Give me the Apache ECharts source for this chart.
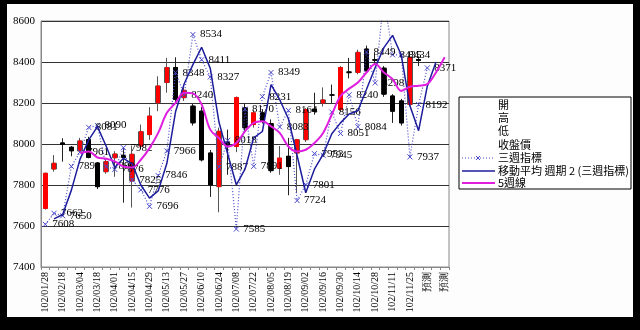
<!DOCTYPE html>
<html><head><meta charset="utf-8">
<script src="https://cdn.jsdelivr.net/npm/echarts@6/dist/echarts.min.js"></script>
<style>html,body{margin:0;padding:0;background:#000;}#c{width:640px;height:330px;}</style>
</head><body><div id="c"></div>
<script>
const categories = ['102/01/28','102/02/04','102/02/18','102/02/25','102/03/04','102/03/11','102/03/18','102/03/25','102/04/01','102/04/08','102/04/15','102/04/22','102/04/29','102/05/06','102/05/13','102/05/20','102/05/27','102/06/03','102/06/10','102/06/17','102/06/24','102/07/01','102/07/08','102/07/15','102/07/22','102/07/29','102/08/05','102/08/12','102/08/19','102/08/26','102/09/02','102/09/09','102/09/16','102/09/23','102/09/30','102/10/07','102/10/14','102/10/21','102/10/28','102/11/04','102/11/11','102/11/18','102/11/25','102/12/02','預測','預測','預測'];
const opens  = [7686,7878,8005,7984,7966,8021,7907,7865,7933,7945,7820,7990,8046,8201,8300,8373,8226,8185,8160,7956,7792,8010,7988,8177,8095,8152,8100,7882,7940,7956,8021,8170,8200,8240,8168,8352,8349,8463,8412,8370,8234,8210,8193,8412];
const closes = [7857,7906,7998,7967,8015,7935,7792,7914,7951,7935,7950,8060,8136,8283,8373,8218,8262,8103,7923,7800,8062,7995,8226,8079,8152,8111,7870,7931,7890,8021,8168,8160,8215,8238,8373,8348,8447,8357,8408,8243,8160,8103,8423,8408];
const lows   = [7680,7865,7914,7940,7960,7930,7780,7855,7840,7714,7690,7975,8020,8160,8250,8200,8210,8090,7915,7742,7667,7850,7960,8060,8080,8100,7860,7850,7750,7760,8010,8143,8183,8200,8160,8320,8340,8350,8390,8230,8103,8090,8185,8380];
const highs  = [7860,7946,8028,7990,8030,8035,7910,7925,7965,7985,7990,8095,8180,8330,8420,8423,8275,8195,8180,7971,8080,8070,8232,8200,8165,8170,8120,7990,8030,8025,8175,8250,8276,8290,8380,8420,8460,8480,8440,8380,8243,8220,8440,8425];
const sanzhou = [7608,7662,7650,7891,7961,8081,8090,7890,7876,7982,7825,7776,7696,7846,7966,8348,8240,8534,8411,8327,7887,8018,7585,8170,7891,8231,8349,8083,8164,7724,7801,7953,7945,8156,8051,8240,8084,8449,8298,8720,8435,8434,7937,8192,8371,null,null];
const ma2 = [null,7635,7656,7775,7926,8020,8085,7990,7885,7930,7903,7800,7736,7771,7906,8157,8294,8387,8472,8369,8107,7952,7801,7877,8030,8061,8290,8216,8123,7944,7762,7877,7949,8050,8103,8146,8162,8267,8373,8470,8530,8434,8186,8065,8282,8400,null];
const ma5 = [null,null,null,null,7956,7964,7934,7928,7915,7890,7885,7923,7980,8054,8152,8201,8250,8247,8193,8070,8029,7988,8005,8062,8103,8111,8086,8054,7988,7964,7972,8005,8054,8144,8234,8270,8300,8349,8390,8349,8316,8259,8279,8284,8292,8349,8423];
const yMin = 7400, yMax = 8600, yStep = 200;
const legendNames = ['開','高','低','收盤價','三週指標','移動平均 週期 2 (三週指標)','5週線'];

const wickData = opens.map((o,i)=>[o, closes[i], lows[i], highs[i]]);
const bodyData = opens.map((o,i)=>[o, closes[i], Math.min(o,closes[i]), Math.max(o,closes[i])]);

const chart = echarts.init(document.getElementById('c'), null, {renderer:'canvas'});
const serif = 'Liberation Serif';
const cjk = '"Noto Sans CJK TC"';
const lg = [];
lg.push({type:'rect', shape:{x:459,y:97,width:172,height:92}, style:{fill:'#fff',stroke:'#000',lineWidth:1}, z:100});
const ly = [105,118,131,145,158,171,183];
legendNames.forEach((n,i)=>{
  lg.push({type:'text', x:498, y:ly[i], style:{text:n, font:'11px '+cjk, fill:'#000', textVerticalAlign:'middle'}, z:101});
});
lg.push({type:'line', shape:{x1:462,y1:158,x2:495,y2:158}, style:{stroke:'#4a4acc',lineWidth:1.2,lineDash:[1,2]}, z:101});
lg.push({type:'line', shape:{x1:476,y1:156,x2:480,y2:160}, style:{stroke:'#4a4acc',lineWidth:1}, z:101});
lg.push({type:'line', shape:{x1:480,y1:156,x2:476,y2:160}, style:{stroke:'#4a4acc',lineWidth:1}, z:101});
lg.push({type:'line', shape:{x1:462,y1:171,x2:495,y2:171}, style:{stroke:'#1c1c9c',lineWidth:1.5}, z:101});
lg.push({type:'line', shape:{x1:462,y1:183,x2:495,y2:183}, style:{stroke:'#e01ee0',lineWidth:2}, z:101});

chart.setOption({
  backgroundColor:'#000',
  animation:false,
  graphic:[{type:'rect', shape:{x:7,y:4,width:626,height:313}, style:{fill:'#fdfdfd'}, z:-10}].concat(lg),
  grid:{left:41, right:191, top:21, bottom:63, show:true, borderColor:'#888', borderWidth:1, backgroundColor:'#fff'},
  xAxis:{type:'category', data:categories, boundaryGap:true,
    axisLine:{lineStyle:{color:'#888'}},
    axisTick:{show:true, interval:0, length:3, lineStyle:{color:'#888'}},
    axisLabel:{interval:1, rotate:90, fontSize:10, fontFamily:serif, color:'#000', margin:5},
    splitLine:{show:false}},
  yAxis:{type:'value', min:yMin, max:yMax, interval:yStep,
    axisLine:{show:true, lineStyle:{color:'#888'}},
    axisTick:{show:false},
    axisLabel:{fontSize:11, fontFamily:serif, color:'#000', margin:6, formatter:(v)=>String(v)},
    splitLine:{lineStyle:{color:'#333', width:1}}},
  series:[
    {name:'wick', type:'candlestick', data:wickData, barWidth:5, z:2,
     itemStyle:{color:'transparent', color0:'transparent', borderColor:'#555', borderColor0:'#222', borderWidth:1}},
    {name:'body', type:'candlestick', data:bodyData, barWidth:4, z:3,
     itemStyle:{color:'#ff0000', color0:'#000', borderColor:'#ff0000', borderColor0:'#000', borderWidth:1}},
    {name:'三週指標', type:'line', data:sanzhou, z:4,
     symbol:'path://M0,0L10,10M10,0L0,10', symbolSize:5,
     itemStyle:{color:'#4a4acc', borderColor:'#4a4acc', borderWidth:1},
     lineStyle:{color:'#4a4acc', width:1.2, type:[1,2]},
     label:{show:true, position:'right', distance:4, fontSize:11, fontFamily:serif, color:'#000'}},
    {name:'移動平均 週期 2 (三週指標)', type:'line', data:ma2, z:5, symbol:'none',
     lineStyle:{color:'#1c1c9c', width:1.5}},
    {name:'5週線', type:'line', data:ma5, z:6, symbol:'none', smooth:0.35,
     lineStyle:{color:'#e01ee0', width:2}}
  ]
});
</script></body></html>
